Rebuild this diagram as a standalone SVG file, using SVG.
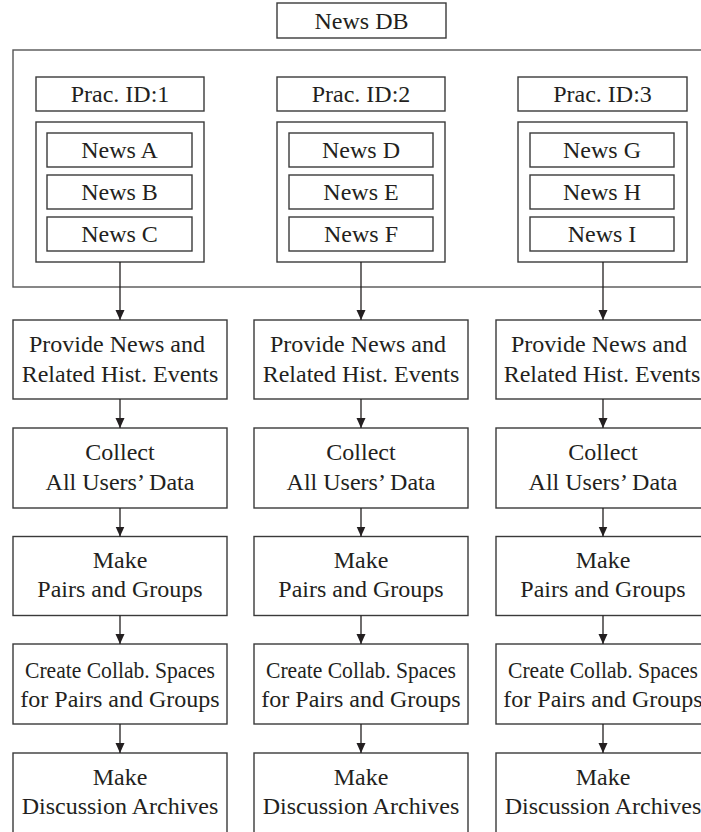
<svg xmlns="http://www.w3.org/2000/svg" width="701" height="832" viewBox="0 0 701 832">
<defs>
<style>
.b{fill:#fff;stroke:#3a3a3a;stroke-width:1.4}
.f{fill:none;stroke:#555;stroke-width:1.4}
.t{font-family:"Liberation Serif","Times New Roman",serif;font-size:24px;fill:#231f20;text-anchor:middle}
.c{stroke:#231f20;stroke-width:1.3;fill:none}
</style>
<marker id="ah" markerUnits="userSpaceOnUse" markerWidth="10" markerHeight="10" refX="10" refY="5" orient="auto">
<path d="M0,0.5 L10,5 L0,9.5 z" fill="#231f20"/>
</marker>
</defs>
<rect width="701" height="832" fill="#fff"/>

<g id="newsdb">
<rect class="b" x="277" y="3" width="169" height="35"/>
<text class="t" x="361.5" y="28.5">News DB</text>
</g>
<g id="frame">
<rect class="f" x="13" y="50" width="700" height="237"/>
</g>

<g id="prac1">
<rect class="b" x="36" y="77" width="168" height="34"/>
<text class="t" x="120" y="102">Prac. ID:1</text>
</g>
<g id="news1">
<rect class="b" x="36" y="122" width="168" height="140"/>
<rect class="b" x="47" y="133" width="145" height="34"/>
<text class="t" x="119.5" y="158">News A</text>
<rect class="b" x="47" y="175" width="145" height="34"/>
<text class="t" x="119.5" y="200">News B</text>
<rect class="b" x="47" y="217" width="145" height="34"/>
<text class="t" x="119.5" y="242">News C</text>
</g>

<g id="prac2">
<rect class="b" x="277" y="77" width="168" height="34"/>
<text class="t" x="361" y="102">Prac. ID:2</text>
</g>
<g id="news2">
<rect class="b" x="277" y="122" width="168" height="140"/>
<rect class="b" x="289" y="133" width="144" height="34"/>
<text class="t" x="361" y="158">News D</text>
<rect class="b" x="289" y="175" width="144" height="34"/>
<text class="t" x="361" y="200">News E</text>
<rect class="b" x="289" y="217" width="144" height="34"/>
<text class="t" x="361" y="242">News F</text>
</g>

<g id="prac3">
<rect class="b" x="518" y="77" width="169" height="34"/>
<text class="t" x="602.5" y="102">Prac. ID:3</text>
</g>
<g id="news3">
<rect class="b" x="518" y="122" width="169" height="140"/>
<rect class="b" x="530" y="133" width="144" height="34"/>
<text class="t" x="602" y="158">News G</text>
<rect class="b" x="530" y="175" width="144" height="34"/>
<text class="t" x="602" y="200">News H</text>
<rect class="b" x="530" y="217" width="144" height="34"/>
<text class="t" x="602" y="242">News I</text>
</g>

<!-- column 1 -->
<g id="provide1"><rect class="b" x="13" y="320" width="214" height="79"/>
<text class="t" x="117" y="352">Provide News and</text><text class="t" x="120" y="381.5">Related Hist. Events</text></g>
<g id="collect1"><rect class="b" x="13" y="428" width="214" height="80"/>
<text class="t" x="120" y="460">Collect</text><text class="t" x="120" y="489.5">All Users’ Data</text></g>
<g id="make1"><rect class="b" x="13" y="536.5" width="214" height="79"/>
<text class="t" x="120" y="567.5">Make</text><text class="t" x="120" y="597">Pairs and Groups</text></g>
<g id="create1"><rect class="b" x="13" y="644" width="214" height="80"/>
<text class="t" x="120" y="677.5" textLength="190" lengthAdjust="spacingAndGlyphs">Create Collab. Spaces</text><text class="t" x="120" y="707">for Pairs and Groups</text></g>
<g id="archive1"><rect class="b" x="13" y="753" width="214" height="90"/>
<text class="t" x="120" y="785">Make</text><text class="t" x="120" y="814">Discussion Archives</text></g>

<!-- column 2 -->
<g id="provide2"><rect class="b" x="254" y="320" width="214" height="79"/>
<text class="t" x="358" y="352">Provide News and</text><text class="t" x="361" y="381.5">Related Hist. Events</text></g>
<g id="collect2"><rect class="b" x="254" y="428" width="214" height="80"/>
<text class="t" x="361" y="460">Collect</text><text class="t" x="361" y="489.5">All Users’ Data</text></g>
<g id="make2"><rect class="b" x="254" y="536.5" width="214" height="79"/>
<text class="t" x="361" y="567.5">Make</text><text class="t" x="361" y="597">Pairs and Groups</text></g>
<g id="create2"><rect class="b" x="254" y="644" width="214" height="80"/>
<text class="t" x="361" y="677.5" textLength="190" lengthAdjust="spacingAndGlyphs">Create Collab. Spaces</text><text class="t" x="361" y="707">for Pairs and Groups</text></g>
<g id="archive2"><rect class="b" x="254" y="753" width="214" height="90"/>
<text class="t" x="361" y="785">Make</text><text class="t" x="361" y="814">Discussion Archives</text></g>

<!-- column 3 -->
<g id="provide3"><rect class="b" x="496" y="320" width="214" height="79"/>
<text class="t" x="599" y="352">Provide News and</text><text class="t" x="602" y="381.5">Related Hist. Events</text></g>
<g id="collect3"><rect class="b" x="496" y="428" width="214" height="80"/>
<text class="t" x="603" y="460">Collect</text><text class="t" x="603" y="489.5">All Users’ Data</text></g>
<g id="make3"><rect class="b" x="496" y="536.5" width="214" height="79"/>
<text class="t" x="603" y="567.5">Make</text><text class="t" x="603" y="597">Pairs and Groups</text></g>
<g id="create3"><rect class="b" x="496" y="644" width="214" height="80"/>
<text class="t" x="603" y="677.5" textLength="190" lengthAdjust="spacingAndGlyphs">Create Collab. Spaces</text><text class="t" x="603" y="707">for Pairs and Groups</text></g>
<g id="archive3"><rect class="b" x="496" y="753" width="214" height="90"/>
<text class="t" x="603" y="785">Make</text><text class="t" x="603" y="814">Discussion Archives</text></g>

<g id="connectors" class="c" marker-end="url(#ah)">
<line x1="120" y1="262" x2="120" y2="320"/>
<line x1="120" y1="399" x2="120" y2="428"/>
<line x1="120" y1="508" x2="120" y2="536.5"/>
<line x1="120" y1="615.5" x2="120" y2="644"/>
<line x1="120" y1="724" x2="120" y2="753"/>
<line x1="361" y1="262" x2="361" y2="320"/>
<line x1="361" y1="399" x2="361" y2="428"/>
<line x1="361" y1="508" x2="361" y2="536.5"/>
<line x1="361" y1="615.5" x2="361" y2="644"/>
<line x1="361" y1="724" x2="361" y2="753"/>
<line x1="603" y1="262" x2="603" y2="320"/>
<line x1="603" y1="399" x2="603" y2="428"/>
<line x1="603" y1="508" x2="603" y2="536.5"/>
<line x1="603" y1="615.5" x2="603" y2="644"/>
<line x1="603" y1="724" x2="603" y2="753"/>
</g>
</svg>
